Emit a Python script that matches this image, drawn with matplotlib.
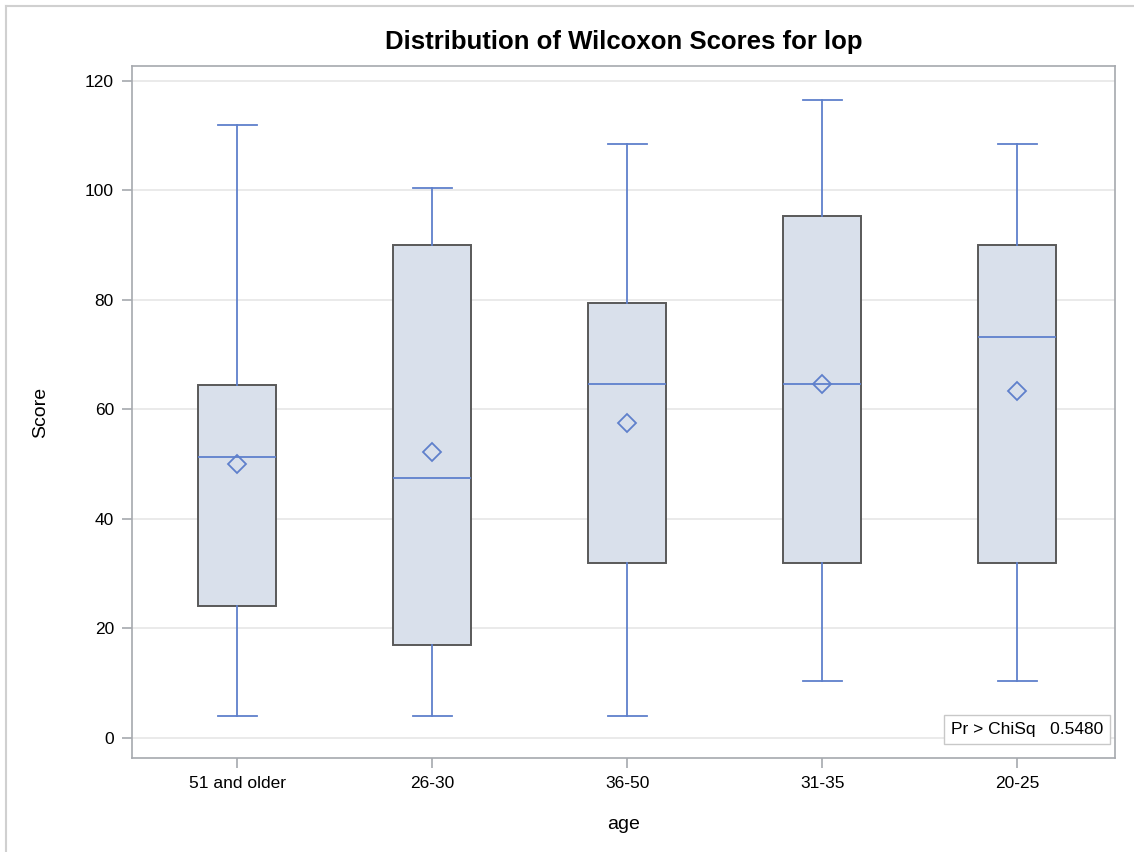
import matplotlib.pyplot as plt
from matplotlib.lines import Line2D

plt.rcParams['font.family'] = ['Liberation Sans', 'DejaVu Sans']

# age groups in plotting order
groups = ['51 and older', '26-30', '36-50', '31-35', '20-25']
whislo = [4.0, 4.0, 4.0, 10.4, 10.4]
q1 = [24.0, 17.0, 32.0, 32.0, 32.0]
med = [51.3, 47.5, 64.6, 64.6, 73.2]
q3 = [64.5, 90.0, 79.5, 95.3, 90.0]
whishi = [112.0, 100.5, 108.5, 116.5, 108.5]
means = [50.0, 52.2, 57.5, 64.7, 63.3]
pvalue = 0.5480

line_col = '#5F80CC'
fill_col = '#D9E0EB'
edge_col = '#595959'

stats = []
for i in range(len(groups)):
    stats.append(dict(label=groups[i], whislo=whislo[i], q1=q1[i], med=med[i],
                      q3=q3[i], whishi=whishi[i], mean=means[i], fliers=[]))

fig = plt.figure(figsize=(11.34, 8.52), dpi=100)
ax = fig.add_axes([0.1164, 0.1103, 0.8668, 0.8122])

ax.bxp(stats, positions=range(len(groups)), widths=0.4, patch_artist=True,
       showmeans=True, showfliers=False,
       boxprops=dict(facecolor=fill_col, edgecolor=edge_col, linewidth=1.4),
       whiskerprops=dict(color=line_col, linewidth=1.3),
       capprops=dict(color=line_col, linewidth=1.3),
       medianprops=dict(color=line_col, linewidth=1.3),
       meanprops=dict(marker='D', markersize=9, markerfacecolor='none',
                      markeredgecolor=line_col, markeredgewidth=1.3),
       capwidths=0.2, zorder=3)

ax.set_xlim(-0.54, 4.5)
ax.set_ylim(-3.7, 122.7)
ax.set_yticks(range(0, 121, 20))
ax.set_xticks(range(len(groups)))
ax.set_xticklabels(groups)
ax.grid(axis='y', color='#E6E6E6', linewidth=1.2, zorder=0)
ax.set_axisbelow(True)

for s in ax.spines.values():
    s.set_color('#A6A9AE')
    s.set_linewidth(1.2)
ax.tick_params(length=7, width=1.2, color='#A6A9AE', labelsize=12.5, pad=6)

ax.set_title('Distribution of Wilcoxon Scores for lop', fontsize=18.5,
             fontweight='bold', pad=12)
ax.set_ylabel('Score', fontsize=14, labelpad=26)
ax.set_xlabel('age', fontsize=14, labelpad=18)

ax.text(0.988, 0.031, 'Pr > ChiSq   %.4f' % pvalue, transform=ax.transAxes,
        ha='right', va='bottom', fontsize=12.5, zorder=5,
        bbox=dict(boxstyle='square,pad=0.4', facecolor='white',
                  edgecolor='#C8C8C8', linewidth=1))

# thin outer frame on top and left
fig.add_artist(Line2D([0.005, 1.0], [0.993, 0.993], color='#D0D0D0',
                      linewidth=1.5, transform=fig.transFigure))
fig.add_artist(Line2D([0.0055, 0.0055], [0.0, 0.993], color='#D0D0D0',
                      linewidth=1.5, transform=fig.transFigure))

fig.savefig('out.png', dpi=100)
